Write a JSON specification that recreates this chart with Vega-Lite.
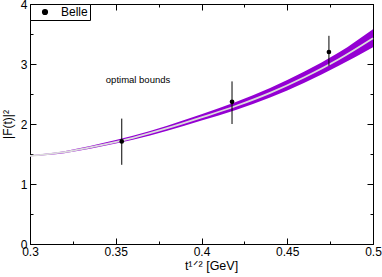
{
  "$schema": "https://vega.github.io/schema/vega-lite/v6.json",
  "width": 343,
  "height": 240,
  "autosize": {"type": "none"},
  "padding": {"left": 30, "top": 4, "right": 9, "bottom": 33},
  "config": {
    "font": "Liberation Sans",
    "view": {"stroke": "black", "strokeWidth": 1},
    "axis": {
      "grid": false,
      "domainColor": "black",
      "tickColor": "black",
      "labelColor": "black",
      "titleColor": "black",
      "labelFontSize": 12,
      "titleFontSize": 12,
      "titleFontWeight": "normal",
      "labelFont": "Liberation Sans",
      "titleFont": "Liberation Sans"
    },
    "legend": {
      "orient": "top-left",
      "offset": 0,
      "strokeColor": "black",
      "fillColor": "white",
      "padding": 2,
      "cornerRadius": 0,
      "labelFontSize": 12,
      "labelFont": "Liberation Sans",
      "labelColor": "black",
      "symbolSize": 22,
      "symbolOffset": 7,
      "labelOffset": 10,
      "symbolType": "circle",
      "symbolFillColor": "black",
      "symbolStrokeColor": "black"
    }
  },
  "datasets": {
    "band": [
      {"x": 0.30, "lower": 1.462, "center": 1.47, "upper": 1.478},
      {"x": 0.32, "lower": 1.514, "center": 1.53, "upper": 1.546},
      {"x": 0.34, "lower": 1.615, "center": 1.64, "upper": 1.665},
      {"x": 0.36, "lower": 1.736, "center": 1.77, "upper": 1.804},
      {"x": 0.38, "lower": 1.888, "center": 1.93, "upper": 1.972},
      {"x": 0.40, "lower": 2.058, "center": 2.11, "upper": 2.162},
      {"x": 0.42, "lower": 2.235, "center": 2.30, "upper": 2.365},
      {"x": 0.44, "lower": 2.442, "center": 2.52, "upper": 2.598},
      {"x": 0.46, "lower": 2.687, "center": 2.78, "upper": 2.873},
      {"x": 0.48, "lower": 2.97, "center": 3.08, "upper": 3.19},
      {"x": 0.50, "lower": 3.28, "center": 3.43, "upper": 3.58}
    ],
    "belle": [
      {"series": "Belle", "x": 0.3535, "y": 1.71, "lo": 1.32, "hi": 2.09},
      {"series": "Belle", "x": 0.4178, "y": 2.37, "lo": 2.0, "hi": 2.71},
      {"series": "Belle", "x": 0.4743, "y": 3.2, "lo": 2.97, "hi": 3.47}
    ],
    "note": [
      {"label": "optimal bounds", "x": 0.363, "y": 2.74}
    ]
  },
  "layer": [
    {
      "data": {"name": "band"},
      "mark": {"type": "area", "color": "#9400D3", "interpolate": "monotone"},
      "encoding": {
        "x": {
          "field": "x", "type": "quantitative",
          "scale": {"domain": [0.3, 0.5], "nice": false, "zero": false},
          "axis": {
            "orient": "bottom",
            "values": [0.3, 0.325, 0.35, 0.375, 0.4, 0.425, 0.45, 0.475, 0.5],
            "format": "~g",
            "labelExpr": "round(datum.value*1000)%50==0 ? datum.label : ''",
            "tickSize": {"condition": {"test": "round(datum.value*1000)%50!=0", "value": -3}, "value": -6},
            "labelPadding": 8,
            "labelFlush": false,
            "title": "t¹ᐟ² [GeV]",
            "titleFontSize": 12.5,
            "titlePadding": 2,
            "titleX": 181
          }
        },
        "y": {
          "field": "lower", "type": "quantitative",
          "scale": {"domain": [0, 4], "nice": false},
          "axis": {
            "orient": "left",
            "values": [0, 0.5, 1, 1.5, 2, 2.5, 3, 3.5, 4],
            "format": "~g",
            "labelExpr": "datum.value%1==0 ? datum.label : ''",
            "tickSize": {"condition": {"test": "datum.value%1!=0", "value": -3}, "value": -6},
            "labelPadding": 9,
            "labelFlush": false,
            "title": "|F(t)|²",
            "titlePadding": 6
          }
        },
        "y2": {"field": "upper"}
      }
    },
    {
      "data": {"name": "band"},
      "mark": {"type": "line", "color": "#dcdcdc", "strokeWidth": 1.8, "interpolate": "monotone"},
      "encoding": {
        "x": {"field": "x", "type": "quantitative", "scale": {"domain": [0.3, 0.5], "nice": false, "zero": false}, "axis": null},
        "y": {"field": "center", "type": "quantitative", "scale": {"domain": [0, 4], "nice": false}, "axis": null}
      }
    },
    {
      "data": {"name": "belle"},
      "mark": {"type": "rule", "color": "black", "strokeWidth": 1},
      "encoding": {
        "x": {"field": "x", "type": "quantitative", "axis": null},
        "y": {"field": "lo", "type": "quantitative", "axis": null},
        "y2": {"field": "hi"}
      }
    },
    {
      "data": {"name": "belle"},
      "mark": {"type": "point", "filled": true, "size": 22, "opacity": 1},
      "encoding": {
        "x": {"field": "x", "type": "quantitative", "axis": null},
        "y": {"field": "y", "type": "quantitative", "axis": null},
        "fill": {"field": "series", "type": "nominal", "scale": {"range": ["black"]}, "legend": {"title": null}},
        "color": {"value": "black"}
      }
    },
    {
      "data": {"name": "note"},
      "mark": {"type": "text", "fontSize": 9.5, "font": "Liberation Sans", "color": "black"},
      "encoding": {
        "x": {
          "field": "x", "type": "quantitative",
          "axis": {
            "orient": "top",
            "values": [0.3, 0.325, 0.35, 0.375, 0.4, 0.425, 0.45, 0.475, 0.5],
            "labels": false,
            "title": null,
            "tickSize": {"condition": {"test": "round(datum.value*1000)%50!=0", "value": -3}, "value": -6}
          }
        },
        "y": {
          "field": "y", "type": "quantitative",
          "axis": {
            "orient": "right",
            "values": [0, 0.5, 1, 1.5, 2, 2.5, 3, 3.5, 4],
            "labels": false,
            "title": null,
            "tickSize": {"condition": {"test": "datum.value%1!=0", "value": -3}, "value": -6}
          }
        },
        "text": {"field": "label"}
      }
    }
  ],
  "resolve": {"axis": {"x": "independent", "y": "independent"}}
}
